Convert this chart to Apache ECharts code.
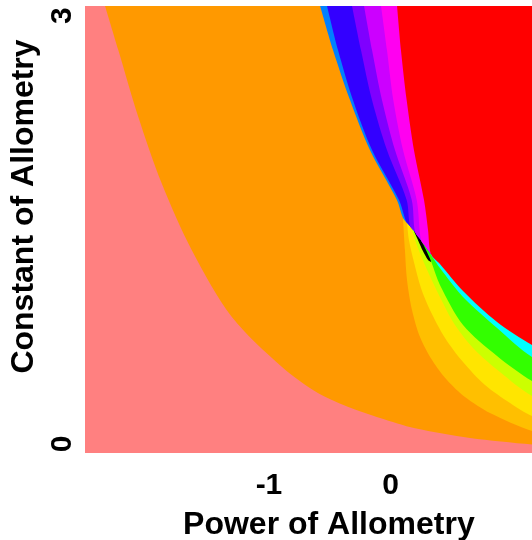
<!DOCTYPE html>
<html>
<head>
<meta charset="utf-8">
<script src="https://cdn.jsdelivr.net/npm/echarts@6/dist/echarts.min.js"></script>
<style>
  html, body { margin: 0; padding: 0; background: #ffffff; }
  #chart { width: 532px; height: 540px; }
</style>
</head>
<body>
<div id="chart"></div>
<script>
// Tick labels shown on each axis
const xTicks = [-1, 0];
const yTicks = [0, 3];

// Region boundaries in (power, constant) space
// pink / orange
const pinkOrange = [[-2.350, 3.07], [-2.240, 2.759], [-2.076, 2.292], [-1.883, 1.825], [-1.636, 1.358],
  [-1.307, 0.891], [-0.895, 0.541], [-0.594, 0.355], [-0.319, 0.250], [-0.086, 0.182],
  [0.202, 0.110], [0.654, 0.042], [1.165, -0.004], [1.502, -0.028]];

// seam where the upper fan meets the lower fan
const seam = [[0.103, 1.582], [0.152, 1.533], [0.202, 1.484], [0.251, 1.428], [0.292, 1.379], [0.333, 1.330]];

// upper fan (top edge down to the seam)
const upper1 = [[-0.580, 3.07], [-0.473, 2.759], [-0.333, 2.408], [-0.169, 2.058], [0.053, 1.708], [0.103, 1.582]];
const upper2 = [[-0.523, 3.07], [-0.432, 2.759], [-0.309, 2.408], [-0.152, 2.058], [0.070, 1.708], [0.128, 1.558]];
const upper3 = [[-0.317, 3.07], [-0.243, 2.759], [-0.152, 2.408], [-0.029, 2.058], [0.133, 1.708], [0.161, 1.526]];
const upper4 = [[-0.218, 3.07], [-0.152, 2.759], [-0.070, 2.408], [0.037, 2.058], [0.175, 1.708], [0.202, 1.484]];
const upper5 = [[-0.078, 3.07], [-0.029, 2.759], [0.023, 2.408], [0.103, 2.058], [0.216, 1.708], [0.251, 1.428]];
const upper6 = [[0.054, 3.07], [0.086, 2.759], [0.133, 2.408], [0.193, 2.058], [0.276, 1.708], [0.309, 1.498], [0.333, 1.330]];

// lower fan (seam out to the right edge)
const lower1 = [[0.103, 1.582], [0.119, 1.358], [0.136, 1.148], [0.177, 0.938], [0.243, 0.749], [0.342, 0.588],
  [0.465, 0.448], [0.613, 0.329], [0.819, 0.217], [1.165, 0.091], [1.502, 0.028]];
const lower2 = [[0.136, 1.554], [0.152, 1.428], [0.193, 1.274], [0.251, 1.092], [0.325, 0.938], [0.449, 0.742],
  [0.597, 0.574], [0.778, 0.413], [0.984, 0.287], [1.165, 0.196], [1.502, 0.112]];
const lower3 = [[0.169, 1.519], [0.226, 1.372], [0.309, 1.204], [0.407, 1.029], [0.531, 0.833], [0.695, 0.658],
  [0.901, 0.504], [1.165, 0.336], [1.502, 0.224]];
const lowerDark = [[0.193, 1.491], [0.226, 1.428], [0.267, 1.351], [0.309, 1.288], [0.333, 1.274]];
const lower4 = [[0.226, 1.456], [0.259, 1.414], [0.300, 1.344], [0.333, 1.281], [0.407, 1.113], [0.597, 0.833],
  [0.877, 0.616], [1.165, 0.441], [1.502, 0.308]];
const lower5 = [[0.309, 1.358], [0.350, 1.302], [0.407, 1.232], [0.597, 1.029], [0.877, 0.812], [1.165, 0.609],
  [1.502, 0.483]];
const lower6 = [[0.333, 1.330], [0.407, 1.260], [0.597, 1.071], [0.877, 0.854], [1.165, 0.693], [1.502, 0.553]];

const colors = {
  pink: '#FF8080', orange: '#FF9900',
  lightBlue: '#0080FF', blue: '#3300FF', violet: '#7F00FF', purple: '#CC00FF', magenta: '#FF00F0',
  amber: '#FFBF00', yellow: '#FFE500', lime: '#CCFF00', dark: '#000000', green: '#33FF00', cyan: '#00FFFF',
  red: '#FF0000'
};

// An upper-fan boundary continues along the seam once it reaches it.
function alongSeam(curve) {
  const lastX = curve[curve.length - 1][0];
  return curve.concat(seam.filter(p => p[0] > lastX + 1e-6));
}

// Each layer fills from its boundary up to the top of the plot; later layers sit on top.
function layer(name, pts, color) {
  return {
    type: 'line', name: name, data: pts,
    symbol: 'none', showSymbol: false, silent: true,
    smooth: 0.3,
    lineStyle: { width: 0, opacity: 0 },
    areaStyle: { origin: 'end', color: color, opacity: 1 },
    animation: false
  };
}

const series = [
  layer('orange', pinkOrange, colors.orange),
  layer('amber', lower1, colors.amber),
  layer('yellow', lower2, colors.yellow),
  layer('lime', lower3, colors.lime),
  layer('dark', lowerDark, colors.dark),
  layer('green', lower4, colors.green),
  layer('cyan', lower5, colors.cyan),
  layer('lightBlue', alongSeam(upper1), colors.lightBlue),
  layer('blue', alongSeam(upper2), colors.blue),
  layer('violet', alongSeam(upper3), colors.violet),
  layer('purple', alongSeam(upper4), colors.purple),
  layer('magenta', alongSeam(upper5), colors.magenta),
  layer('red', upper6.concat(lower6.slice(1)), colors.red)
];

const font = 'Liberation Sans, Arial, sans-serif';
const chart = echarts.init(document.getElementById('chart'), null, { renderer: 'canvas' });
chart.setOption({
  animation: false,
  backgroundColor: '#ffffff',
  grid: {
    left: 85, top: 6, bottom: 87, right: -40.75,
    show: true, backgroundColor: colors.pink, borderWidth: 0,
    outerBoundsMode: 'none'
  },
  xAxis: {
    type: 'value', min: -2.514, max: 1.5,
    name: 'Power of Allometry', nameLocation: 'middle', nameGap: 56,
    nameTextStyle: { fontFamily: font, fontWeight: 'bold', fontSize: 32, color: '#000' },
    axisLine: { show: false }, axisTick: { show: false }, splitLine: { show: false },
    axisLabel: {
      customValues: xTicks, margin: 18,
      fontFamily: font, fontWeight: 'bold', fontSize: 30, color: '#000'
    }
  },
  yAxis: {
    type: 'value', min: -0.063, max: 3.067,
    name: 'Constant of Allometry', nameLocation: 'middle', nameGap: 30,
    nameTextStyle: {
      fontFamily: font, fontWeight: 'bold', fontSize: 32, color: '#000',
      padding: [0, 0, 0, 46]
    },
    axisLine: { show: false }, axisTick: { show: false }, splitLine: { show: false },
    axisLabel: {
      customValues: yTicks, rotate: 90, margin: 7,
      fontFamily: font, fontWeight: 'bold', fontSize: 30, color: '#000'
    }
  },
  series: series
});
</script>
</body>
</html>
